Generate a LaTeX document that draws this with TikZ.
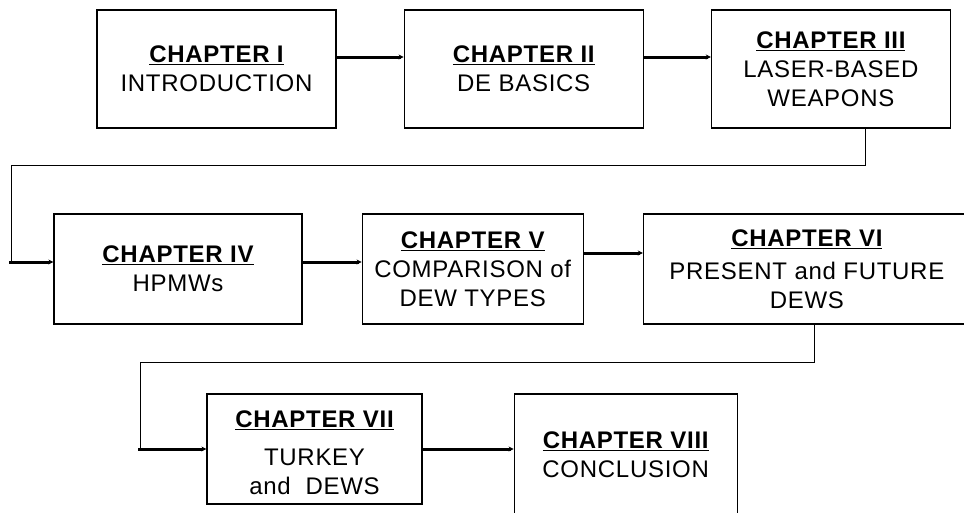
\documentclass[tikz,border=0pt]{standalone}
\usepackage{fontspec}
\setmainfont{Liberation Sans}[LetterSpace=3]
\usetikzlibrary{arrows.meta, positioning}
\def\Hrow{110pt}
\def\Htop{118pt}
\def\Wtop{239pt}
\def\distH{67pt}
\def\distM{59pt}
\tikzstyle{every node} = [font=\fontsize{24pt}{29pt}\selectfont]
\tikzstyle{chapbox} = [rectangle, draw=black, line width=1.2pt, text centered, align=center, inner sep=0pt]
\tikzstyle{link}    = [line width=1.2pt]
\tikzstyle{arrow}   = [line width=3pt, -{Stealth[length=5pt,width=5pt]}]
\newcommand{\chaptitle}[1]{\textbf{\underline{#1}}}

\begin{document}
\begin{tikzpicture}
\path[use as bounding box] (0,0) rectangle (964pt,-512pt);
\clip (0,0) rectangle (964pt,-512pt);
% Objects
    % First row
    \node (ch1) [chapbox, minimum width=\Wtop, minimum height=\Htop] at (216.5pt,-69pt)
        {\chaptitle{CHAPTER I}\\INTRODUCTION};
    \node (ch2) [chapbox, minimum width=\Wtop, minimum height=\Htop, right=\distH of ch1]
        {\chaptitle{CHAPTER II}\\DE BASICS};
    \node (ch3) [chapbox, minimum width=\Wtop, minimum height=\Htop, right=\distH of ch2]
        {\chaptitle{CHAPTER III}\\LASER-BASED\\WEAPONS};
    % Second row
    \node (ch4) [chapbox, minimum width=248pt, minimum height=\Hrow] at (178pt,-269pt)
        {\chaptitle{CHAPTER IV}\\HPMWs};
    \node (ch5) [chapbox, minimum width=221pt, minimum height=\Hrow, right=\distM of ch4]
        {\chaptitle{CHAPTER V}\\COMPARISON of\\DEW TYPES};
    \node (ch6) [chapbox, minimum width=327pt, minimum height=\Hrow, right=\distM of ch5]
        {\chaptitle{CHAPTER VI}\\[4pt]PRESENT and FUTURE\\DEWS};
    % Third row
    \node (ch7) [chapbox, minimum width=215pt, minimum height=\Hrow] at (314.5pt,-449pt)
        {\raisebox{-6pt}[\height][\depth]{\begin{tabular}{@{}c@{}}
         \chaptitle{CHAPTER VII}\\[9pt]TURKEY\\and~ DEWS\end{tabular}}};
    \node (ch8) [chapbox, minimum width=223pt, minimum height=122pt,
                 right=91pt of ch7.north east, anchor=north west]
        {\chaptitle{CHAPTER VIII}\\CONCLUSION};

% Turning points
    \coordinate (in4)   at ([yshift=7pt]ch4.west);
    \coordinate (turn1) at ([xshift=-42pt]in4);
    \coordinate (turn2) at ([xshift=-66pt]ch7.west);

% Arrows
    % First row
    \draw [arrow] ([yshift=12pt]ch1.east) -- ([yshift=12pt]ch2.west);
    \draw [arrow] ([yshift=12pt]ch2.east) -- ([yshift=12pt]ch3.west);
    % Row to row
    \draw [link]  ([xshift=34.5pt]ch3.south) -- ++(0,-37pt) -| (turn1);
    \draw [arrow] ([xshift=-2pt]turn1) -- (in4);
    % Second row
    \draw [arrow] (in4 -| ch4.east) -- (in4 -| ch5.west);
    \draw [arrow] ([yshift=16pt]ch5.east) -- ([yshift=16pt]ch6.west);
    % Row to row
    \draw [link]  ([xshift=7.5pt]ch6.south) -- ++(0,-38pt) -| (turn2);
    \draw [arrow] ([xshift=-2pt]turn2) -- (ch7.west);
    % Third row
    \draw [arrow] (ch7) -- (ch8.west |- ch7);
\end{tikzpicture}
\end{document}
